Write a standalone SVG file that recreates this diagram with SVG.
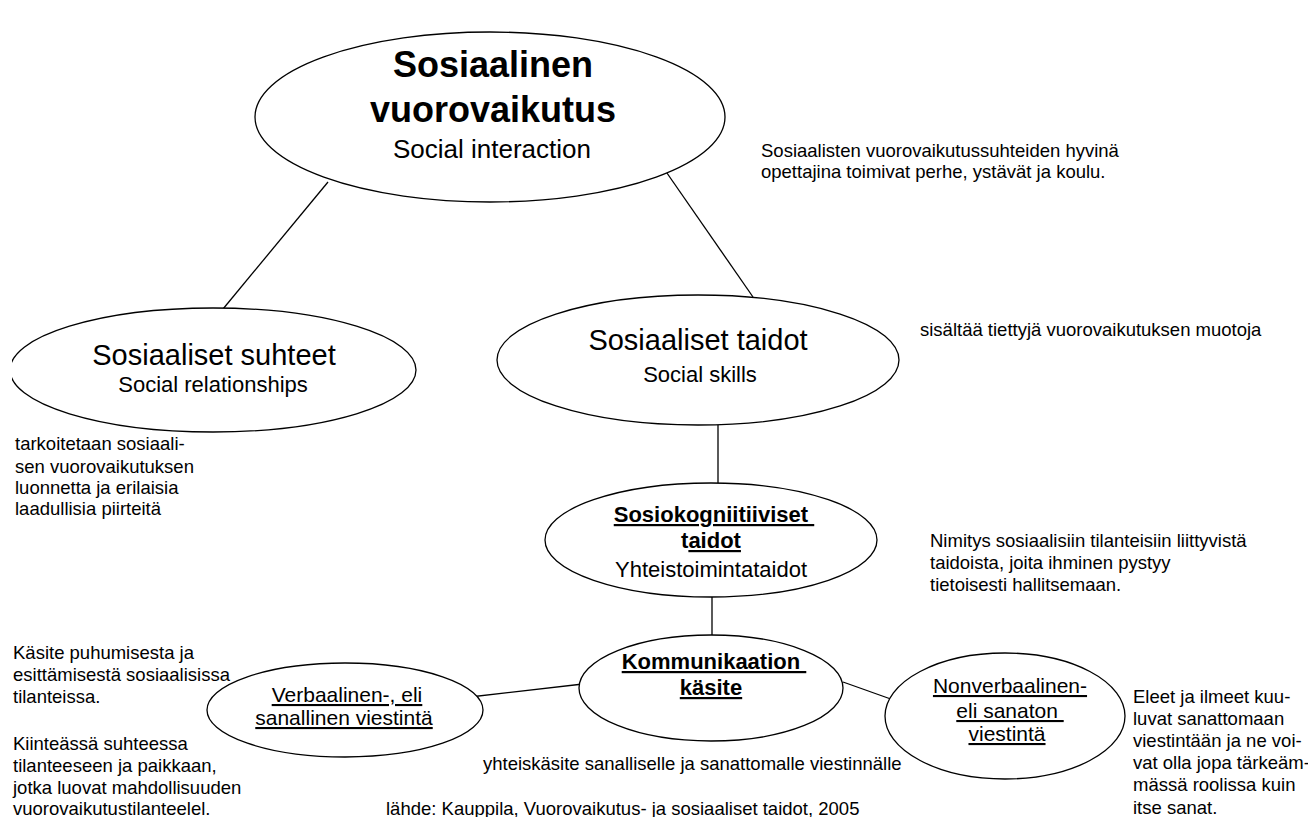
<svg xmlns="http://www.w3.org/2000/svg" width="1308" height="817" viewBox="0 0 1308 817">
<style>
  .bg { fill: #ffffff; }
  .shape { fill: #ffffff; stroke: #000000; stroke-width: 1.3; }
  .conn line { stroke: #000000; stroke-width: 1.3; }
  text { font-family: "Liberation Sans", Arial, sans-serif; fill: #000000; }
  .title { font-size: 36px; font-weight: bold; text-anchor: middle; }
  .sub26 { font-size: 26px; text-anchor: middle; }
  .main { font-size: 29px; text-anchor: middle; }
  .sub { font-size: 22px; text-anchor: middle; }
  .bu { font-size: 22px; font-weight: bold; text-anchor: middle; }
  .u21 { font-size: 21px; text-anchor: middle; text-decoration: underline; }
  .ann { font-size: 18.5px; }
  .ul { text-decoration: underline; }
</style>
<defs>
  <clipPath id="clipLeft"><rect x="12" y="0" width="1296" height="817"/></clipPath>
</defs>
<rect class="bg" x="0" y="0" width="1308" height="817"/>

<g id="connectors" class="conn">
  <line x1="328" y1="182" x2="223" y2="309"/>
  <line x1="660" y1="163" x2="753" y2="297"/>
  <line x1="718" y1="425" x2="718" y2="483"/>
  <line x1="712" y1="597" x2="712" y2="635"/>
  <line x1="470" y1="697" x2="583" y2="684"/>
  <line x1="843" y1="682" x2="902" y2="703"/>
</g>

<g id="node-sosiaalinen-vuorovaikutus">
  <ellipse class="shape" cx="490" cy="117" rx="235" ry="85"/>
  <text class="title" x="493" y="77">Sosiaalinen</text>
  <text class="title" x="493" y="122">vuorovaikutus</text>
  <text class="sub26" x="492" y="158">Social interaction</text>
</g>

<g id="node-sosiaaliset-suhteet">
  <ellipse class="shape" cx="213" cy="370" rx="203" ry="62" clip-path="url(#clipLeft)"/>
  <text class="main" x="214" y="365">Sosiaaliset suhteet</text>
  <text class="sub" x="213" y="392">Social relationships</text>
</g>

<g id="node-sosiaaliset-taidot">
  <ellipse class="shape" cx="698" cy="360" rx="201" ry="65"/>
  <text class="main" x="698" y="350">Sosiaaliset taidot</text>
  <text class="sub" x="700" y="382">Social skills</text>
</g>

<g id="node-sosiokognitiiviset">
  <ellipse class="shape" cx="711" cy="540" rx="166" ry="57"/>
  <text class="bu" x="714" y="522" xml:space="preserve" text-decoration="underline">Sosiokogniitiiviset </text>
  <text class="bu" x="711" y="548">t<tspan class="ul">aidot</tspan></text>
  <text class="sub" x="711" y="577">Yhteistoimintataidot</text>
</g>

<g id="node-kommunikaatio">
  <ellipse class="shape" cx="711" cy="688" rx="132" ry="53"/>
  <text class="bu" x="714" y="669" xml:space="preserve" text-decoration="underline">Kommunikaation </text>
  <text class="bu" x="711" y="695" text-decoration="underline">käsite</text>
</g>

<g id="node-verbaalinen">
  <ellipse class="shape" cx="345" cy="710" rx="138" ry="47"/>
  <text class="u21" x="347" y="702">Verbaalinen-, eli</text>
  <text class="u21" x="344" y="725">sanallinen viestintä</text>
</g>

<g id="node-nonverbaalinen">
  <ellipse class="shape" cx="1005" cy="716" rx="120" ry="63"/>
  <text class="u21" x="1010" y="693">Nonverbaalinen-</text>
  <text class="u21" x="1010" y="718" xml:space="preserve">eli sanaton </text>
  <text class="u21" x="1007" y="741">viestintä</text>
</g>

<g id="annotations" class="ann">
  <text class="ann" x="761" y="157">Sosiaalisten vuorovaikutussuhteiden hyvinä</text>
  <text class="ann" x="761" y="178">opettajina toimivat perhe, ystävät ja koulu.</text>

  <text class="ann" x="920" y="336">sisältää tiettyjä vuorovaikutuksen muotoja</text>

  <text class="ann" x="15" y="450">tarkoitetaan sosiaali-</text>
  <text class="ann" x="15" y="473">sen vuorovaikutuksen</text>
  <text class="ann" x="15" y="494">luonnetta ja erilaisia</text>
  <text class="ann" x="15" y="515">laadullisia piirteitä</text>

  <text class="ann" x="930" y="547">Nimitys sosiaalisiin tilanteisiin liittyvistä</text>
  <text class="ann" x="930" y="569">taidoista, joita ihminen pystyy</text>
  <text class="ann" x="930" y="591">tietoisesti hallitsemaan.</text>

  <text class="ann" x="13" y="659">Käsite puhumisesta ja</text>
  <text class="ann" x="13" y="681">esittämisestä sosiaalisissa</text>
  <text class="ann" x="13" y="703">tilanteissa.</text>
  <text class="ann" x="13" y="750">Kiinteässä suhteessa</text>
  <text class="ann" x="13" y="772">tilanteeseen ja paikkaan,</text>
  <text class="ann" x="13" y="794">jotka luovat mahdollisuuden</text>
  <text class="ann" x="13" y="815">vuorovaikutustilanteelel.</text>

  <text class="ann" x="1133" y="703">Eleet ja ilmeet kuu-</text>
  <text class="ann" x="1133" y="725">luvat sanattomaan</text>
  <text class="ann" x="1133" y="747">viestintään ja ne voi-</text>
  <text class="ann" x="1133" y="769">vat olla jopa tärkeäm-</text>
  <text class="ann" x="1133" y="791">mässä roolissa kuin</text>
  <text class="ann" x="1133" y="814">itse sanat.</text>

  <text class="ann" x="483" y="770">yhteiskäsite sanalliselle ja sanattomalle viestinnälle</text>
  <text class="ann" x="386" y="815">lähde: Kauppila, Vuorovaikutus- ja sosiaaliset taidot, 2005</text>
</g>
</svg>
